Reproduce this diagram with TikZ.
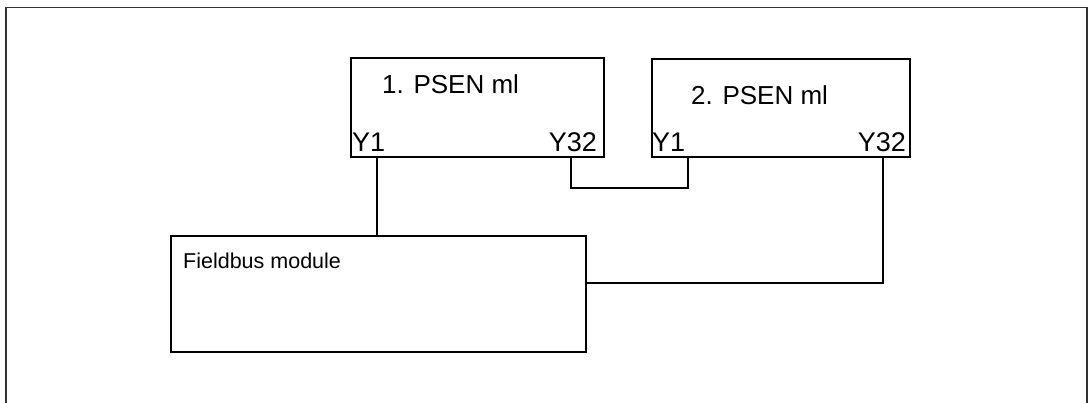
\documentclass[tikz,border=0pt]{standalone}
\usepackage{fontspec}
\setmainfont{Liberation Sans}
\tikzset{
  unit/.style={draw, line width=2pt, inner sep=0pt, anchor=north west},
  txt/.style={inner sep=0pt},
  big/.style={font=\fontsize{26}{26}\selectfont},
  port/.style={font=\fontsize{27}{27}\selectfont},
}
\begin{document}
\begin{tikzpicture}[x=1pt,y=-1pt]
      \useasboundingbox (0,0) rectangle (1088,403);
      \draw[line width=1.8pt, black!80] (6,403) -- (6,7.5) -- (1087,7.5) -- (1087,403);
      \node[unit, minimum width=253pt, minimum height=99pt] (psen1) at (350,57) {};
      \node[unit, minimum width=258pt, minimum height=98pt] (psen2) at (651,58) {};
      \node[unit, minimum width=415pt, minimum height=116pt] (fb) at (170,235) {};
      \node[txt, big, anchor=base west] (t1) at (382,94) {1. PSEN ml};
      \node[txt, big, anchor=base west] (t2) at (691,105) {2. PSEN ml};
      \node[txt, port, anchor=base west] (a1) at (352,152) {Y1};
      \node[txt, port, anchor=base east] (a32) at (597,152) {Y32};
      \node[txt, port, anchor=base west] (b1) at (652,152) {Y1};
      \node[txt, port, anchor=base east] (b32) at (906,152) {Y32};
      \node[txt, anchor=base west, font=\fontsize{21.5}{21.5}\selectfont] (tf) at (183,269) {Fieldbus module};
      \coordinate (w1) at (377,0);
      \coordinate (w2) at (571,188);
      \coordinate (w3) at (688,188);
      \coordinate (w4) at (883,283);
      \begin{scope}[line width=2pt]
        \draw (psen1.south -| w1) -- (fb.north -| w1);
        \draw (psen1.south -| w2) -- (w2) -- (w3) -- (psen2.south -| w3);
        \draw (fb.east |- w4) -- (w4) -- (psen2.south -| w4);
      \end{scope}
    \end{tikzpicture}
\end{document}
